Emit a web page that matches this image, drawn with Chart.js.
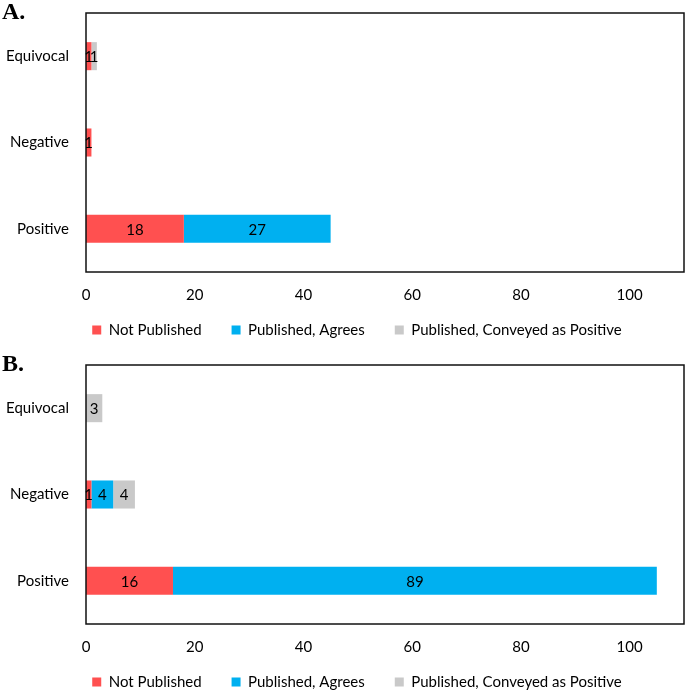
<!DOCTYPE html>
<html><head><meta charset="utf-8">
<script src="https://cdn.jsdelivr.net/npm/chart.js@4.4.1/dist/chart.umd.min.js"></script>
<style>
html,body{margin:0;padding:0;background:#fff;}
body{width:685px;height:690px;position:relative;overflow:hidden;}
.panel{position:absolute;left:0;width:685px;height:373px;}
.lbl{position:absolute;left:2px;font:bold 24px "Liberation Serif","Times New Roman",serif;line-height:24px;color:#000;}
</style></head><body>
<div class="panel" style="top:0"><canvas id="cA" width="685" height="373"></canvas></div>
<div class="panel" style="top:352px"><canvas id="cB" width="685" height="373"></canvas></div>
<div class="lbl" style="top:-1px">A.</div>
<div class="lbl" style="top:351px">B.</div>
<script>
const categories = ['Equivocal', 'Negative', 'Positive'];
const seriesNames = ['Not Published', 'Published, Agrees', 'Published, Conveyed as Positive'];
const seriesColors = ['#FF5050', '#00B0F0', '#C9C9C9'];
const aNotPublished = [1, 1, 18];
const aAgrees = [0, 0, 27];
const aConveyed = [1, 0, 0];
const bNotPublished = [0, 1, 16];
const bAgrees = [0, 4, 89];
const bConveyed = [3, 4, 0];
const xTicks = [0, 20, 40, 60, 80, 100];
const xMax = 110;

const FONT = 'Lato';
const FS = 15;

const framePlugin = {
  id: 'frameAndLabels',
  afterLayout(chart) {
    const lg = chart.legend;
    if (lg) {
      const dx = 15, dy = -25.5;
      lg.left += dx; lg.right += dx;
      lg.top += dy; lg.bottom += dy;
    }
  },
  afterDatasetsDraw(chart) {
    const ctx = chart.ctx;
    const a = chart.chartArea;
    ctx.save();
    ctx.strokeStyle = '#111';
    ctx.lineWidth = 1.5;
    ctx.strokeRect(a.left, a.top, a.right - a.left, a.bottom - a.top);
    ctx.font = FS + 'px ' + FONT;
    ctx.fillStyle = '#000';
    ctx.textAlign = 'center';
    ctx.textBaseline = 'middle';
    chart.data.datasets.forEach((ds, i) => {
      const meta = chart.getDatasetMeta(i);
      meta.data.forEach((bar, j) => {
        const v = ds.data[j];
        if (!v) return;
        const p = bar.getProps(['x', 'y', 'base'], true);
        ctx.fillText(String(v), (p.x + p.base) / 2, p.y + 1);
      });
    });
    ctx.restore();
  }
};

function makeChart(id, series) {
  return new Chart(document.getElementById(id), {
    type: 'bar',
    data: {
      labels: categories,
      datasets: series.map((d, i) => ({
        label: seriesNames[i],
        data: d,
        backgroundColor: seriesColors[i],
        borderWidth: 0
      }))
    },
    options: {
      indexAxis: 'y',
      responsive: false,
      animation: false,
      layout: { padding: { top: 13, left: 0, right: 1, bottom: 0 } },
      datasets: { bar: { categoryPercentage: 1, barPercentage: 0.325 } },
      scales: {
        x: {
          stacked: true, min: 0, max: xMax,
          grid: { display: false, drawTicks: false },
          border: { display: false },
          afterBuildTicks: s => { s.ticks = xTicks.map(v => ({ value: v })); },
          ticks: { padding: 14, color: '#000', font: { family: FONT, size: FS } }
        },
        y: {
          stacked: true,
          grid: { display: false, drawTicks: false },
          border: { display: false },
          afterFit: s => { s.width = 86; s.paddingTop = 0; s.paddingBottom = 0; },
          ticks: { padding: 17, color: '#000', font: { family: FONT, size: FS } }
        }
      },
      plugins: {
        legend: {
          position: 'bottom',
          labels: { boxWidth: 9, boxHeight: 9, padding: 30, color: '#000', font: { family: FONT, size: FS } }
        },
        tooltip: { enabled: false }
      }
    },
    plugins: [framePlugin]
  });
}

makeChart('cA', [aNotPublished, aAgrees, aConveyed]);
makeChart('cB', [bNotPublished, bAgrees, bConveyed]);
</script>
</body></html>
